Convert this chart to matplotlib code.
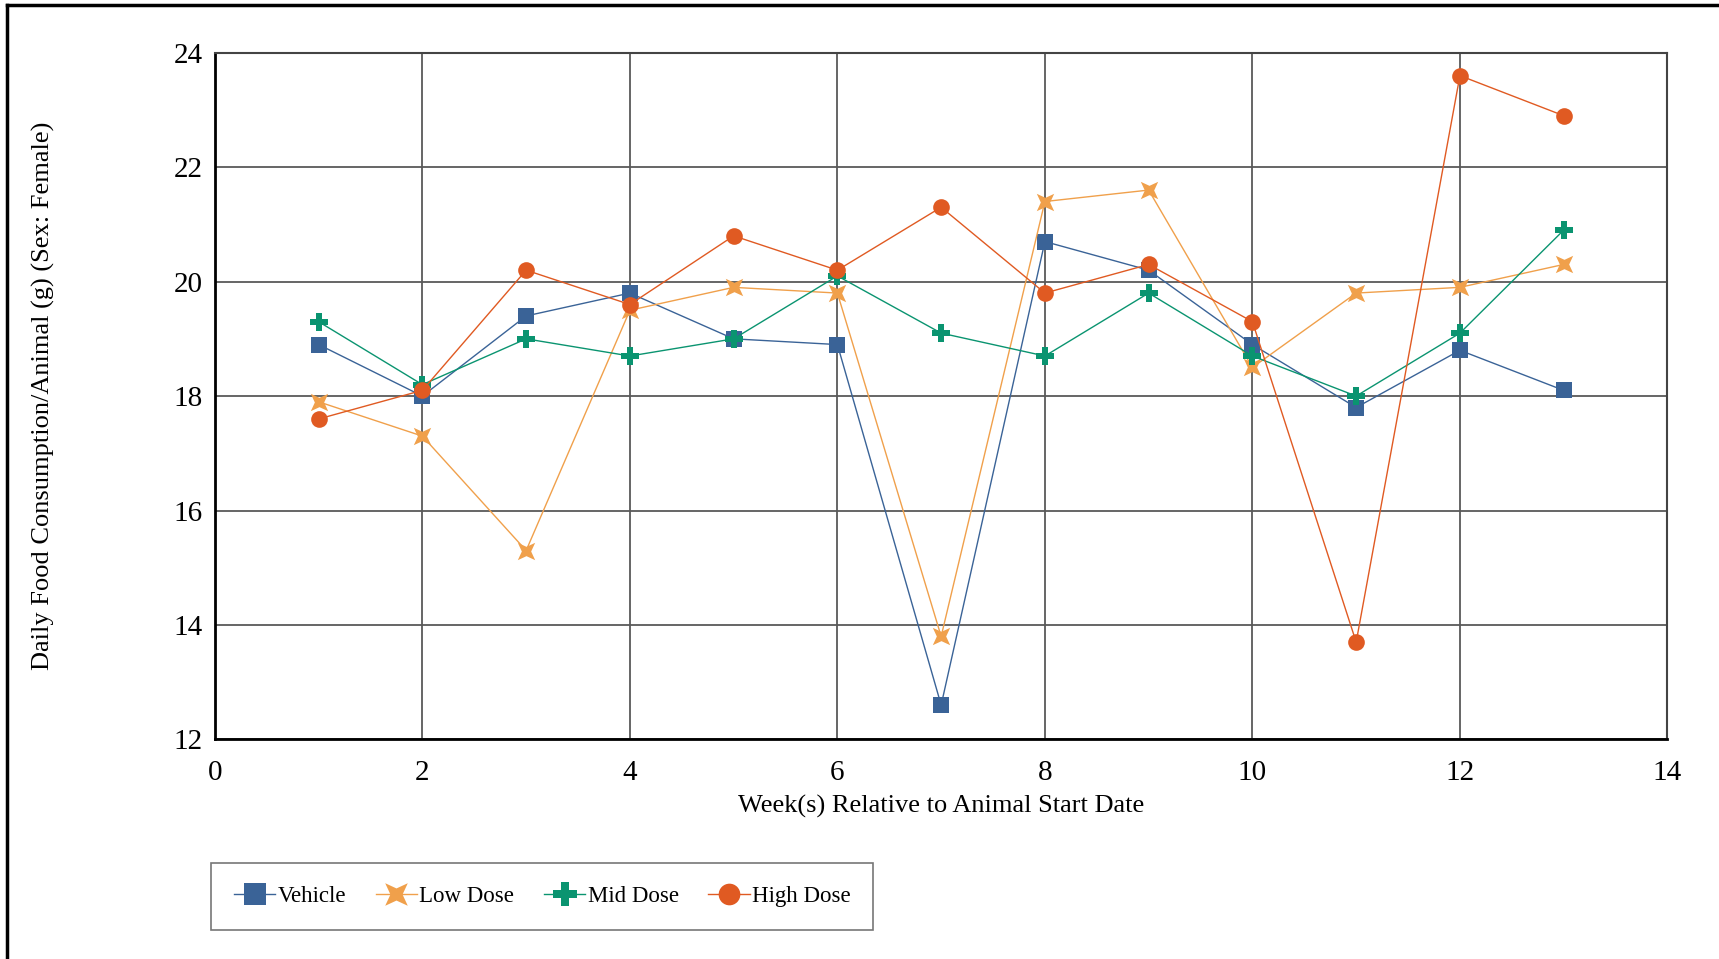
import matplotlib.pyplot as plt
from matplotlib.lines import Line2D
from matplotlib.path import Path
import numpy as np

weeks = [1, 2, 3, 4, 5, 6, 7, 8, 9, 10, 11, 12, 13]
vehicle = [18.9, 18.0, 19.4, 19.8, 19.0, 18.9, 12.6, 20.7, 20.2, 18.9, 17.8, 18.8, 18.1]
low_dose = [17.9, 17.3, 15.3, 19.5, 19.9, 19.8, 13.8, 21.4, 21.6, 18.5, 19.8, 19.9, 20.3]
mid_dose = [19.3, 18.2, 19.0, 18.7, 19.0, 20.1, 19.1, 18.7, 19.8, 18.7, 18.0, 19.1, 20.9]
high_dose = [17.6, 18.1, 20.2, 19.6, 20.8, 20.2, 21.3, 19.8, 20.3, 19.3, 13.7, 23.6, 22.9]

plt.rcParams['font.family'] = ['Liberation Serif', 'DejaVu Serif']

# four point star, points on the diagonals
ang = np.deg2rad(np.arange(45, 405, 45))
rad = np.array([1.0, 0.38] * 4)
star = Path(np.column_stack([rad * np.cos(ang), rad * np.sin(ang)]).tolist()
            + [[rad[0] * np.cos(ang[0]), rad[0] * np.sin(ang[0])]], closed=True)

fig = plt.figure(figsize=(17.19, 9.59), dpi=100)
ax = fig.add_axes([0.125, 0.229, 0.845, 0.716])

series = [
    (vehicle, 'Vehicle', '#3a6397', 's', 12),
    (low_dose, 'Low Dose', '#f0a04b', star, 12.5),
    (mid_dose, 'Mid Dose', '#0a9470', 'P', 13),
    (high_dose, 'High Dose', '#e05a22', 'o', 12),
]
for vals, name, col, mk, ms in series:
    ax.plot(weeks, vals, color=col, lw=1.0, marker=mk, markersize=ms,
            markeredgewidth=0, label=name)

ax.set_xlim(0, 14)
ax.set_ylim(12, 24)
ax.set_xticks(range(0, 15, 2))
ax.set_yticks(range(12, 25, 2))
ax.grid(True, color='#595959', lw=1.3)
ax.set_axisbelow(True)
ax.tick_params(length=0, labelsize=21)
ax.tick_params(axis='x', pad=15)
ax.tick_params(axis='y', pad=9)
for s in ['left', 'bottom']:
    ax.spines[s].set_linewidth(2)
    ax.spines[s].set_color('black')
for s in ['top', 'right']:
    ax.spines[s].set_linewidth(1.5)
    ax.spines[s].set_color('#444444')

ax.set_xlabel('Week(s) Relative to Animal Start Date', fontsize=19, labelpad=6)
ax.set_ylabel('Daily Food Consumption/Animal (g) (Sex: Female)', fontsize=19, labelpad=0)
ax.yaxis.set_label_coords(-0.110, 0.5)

leg = ax.legend(loc='upper left', bbox_to_anchor=(-0.0105, -0.163), ncol=4,
                fontsize=16.5, frameon=True, fancybox=False, edgecolor='#555555',
                borderpad=1.0, handlelength=1.8, columnspacing=1.3, handletextpad=0.1,
                markerscale=1.3)
leg.get_frame().set_linewidth(1.2)

# outer frame
fig.add_artist(Line2D([0.004, 1.0], [0.995, 0.995], color='black', lw=2.5, transform=fig.transFigure))
fig.add_artist(Line2D([0.004, 0.004], [0.0, 0.995], color='black', lw=2.5, transform=fig.transFigure))

fig.savefig('out.png', dpi=100)
